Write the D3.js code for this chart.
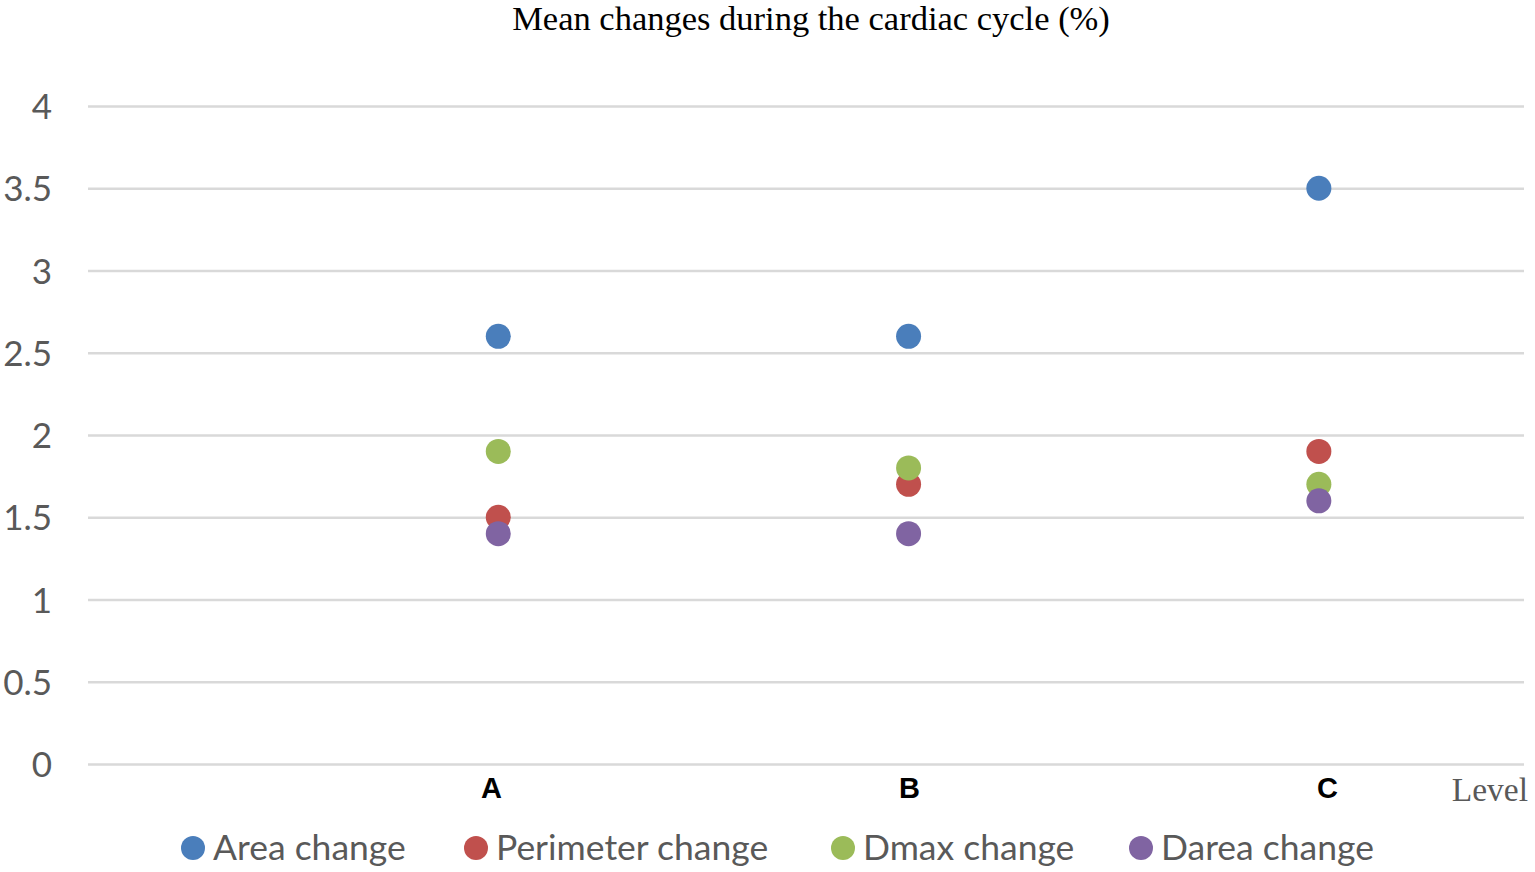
<!DOCTYPE html>
<html>
<head>
<meta charset="utf-8">
<script src="https://cdn.jsdelivr.net/npm/d3@7"></script>
<style>
html,body{margin:0;padding:0;background:#fff;}
svg{display:block;}
</style>
</head>
<body>
<svg id="chart" width="1535" height="872"></svg>
<script>
const categories = ["A", "B", "C"];
const seriesNames = ["Area change", "Perimeter change", "Dmax change", "Darea change"];
const areaChange = [2.6, 2.6, 3.5];
const perimeterChange = [1.5, 1.7, 1.9];
const dmaxChange = [1.9, 1.8, 1.7];
const dareaChange = [1.4, 1.4, 1.6];
const yTicks = [0, 0.5, 1, 1.5, 2, 2.5, 3, 3.5, 4];
const colors = ["#4A7EBB", "#C0504D", "#9BBB59", "#8064A2"];
const seriesValues = [areaChange, perimeterChange, dmaxChange, dareaChange];

(function () {
const svg = d3.select("#chart");
const mLeft = 88, mRight = 1524, mTop = 106, mBottom = 764;

const y = d3.scaleLinear().domain([0, 4]).range([mBottom, mTop]);
const x = d3.scaleLinear().domain([0, 3.5]).range([mLeft, mRight]);
const xLab = d3.scalePoint().domain(categories).range([491, 1327]);

const yAxis = d3.axisLeft(y).tickValues(yTicks).tickSize(-(mRight - mLeft)).tickPadding(36)
  .tickFormat(d => d3.format("")(d));
const gy = svg.append("g").attr("transform", `translate(${mLeft},0)`).call(yAxis);
gy.select(".domain").remove();
gy.selectAll(".tick line").attr("stroke", "#D9D9D9").attr("stroke-width", 2.5);
gy.selectAll(".tick text").attr("fill", "#595959").attr("font-family", "Lato, 'Open Sans', sans-serif")
  .attr("font-size", 35).attr("dy", "0.36em");

svg.append("text").attr("x", 811).attr("y", 30).attr("text-anchor", "middle")
  .attr("font-family", "'Liberation Serif', 'Times New Roman', serif").attr("font-size", 34.5)
  .attr("fill", "#000").text("Mean changes during the cardiac cycle (%)");

const xAxis = d3.axisBottom(xLab).tickSize(0).tickPadding(0);
const gx = svg.append("g").attr("transform", `translate(0,${mBottom})`).call(xAxis);
gx.select(".domain").remove();
gx.selectAll(".tick text").attr("fill", "#000").attr("font-family", "'Liberation Sans', Arial, sans-serif")
  .attr("font-weight", "bold").attr("font-size", 29).attr("dy", 0).attr("y", 34);

svg.append("text").attr("x", 1528).attr("y", 801).attr("text-anchor", "end")
  .attr("font-family", "'Liberation Serif', 'Times New Roman', serif").attr("font-size", 33.5)
  .attr("fill", "#595959").text("Level");

seriesValues.forEach((vals, si) => {
  svg.append("g").selectAll("circle").data(vals).join("circle")
    .attr("cx", (d, i) => x(i + 1)).attr("cy", d => y(d)).attr("r", 12.5)
    .attr("fill", colors[si]);
});

const legendX = [193, 476, 843, 1141];
const lg = svg.append("g");
seriesNames.forEach((name, i) => {
  lg.append("circle").attr("cx", legendX[i]).attr("cy", 848).attr("r", 12).attr("fill", colors[i]);
  lg.append("text").attr("x", legendX[i] + 20).attr("y", 860)
    .attr("font-family", "Lato, 'Open Sans', sans-serif").attr("font-size", 35.5)
    .attr("fill", "#595959").text(name);
});
})();
</script>
</body>
</html>
